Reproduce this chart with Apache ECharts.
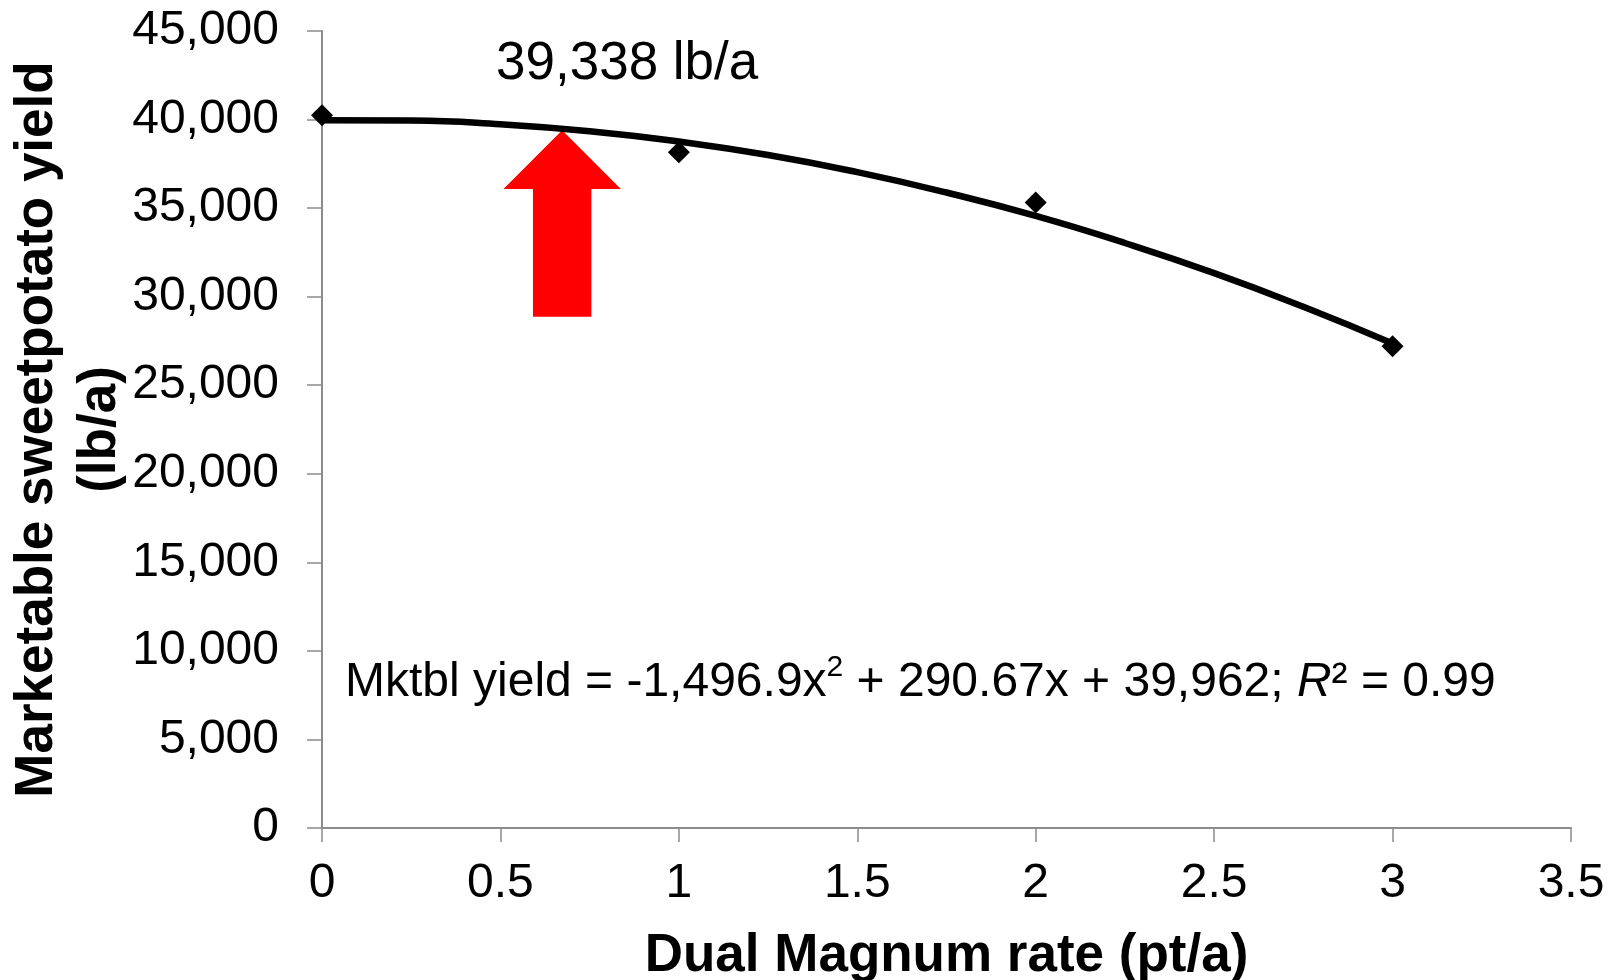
<!DOCTYPE html>
<html>
<head>
<meta charset="utf-8">
<script src="https://cdn.jsdelivr.net/npm/echarts@6/dist/echarts.min.js"></script>
<style>
  html, body { margin: 0; padding: 0; background: #fff; }
  #main { width: 1619px; height: 980px; }
</style>
</head>
<body>
<div id="main"></div>
<script>
// observed yields (lb/a) at each Dual Magnum rate (pt/a)
const rates = [0, 1, 2, 3]
const yields = [40250, 38150, 35320, 27200]

// fitted curve
const curveX = [0, 0.25, 0.5, 0.75, 1, 1.25, 1.5, 1.75, 2, 2.25, 2.5, 2.75, 3]
const curveY = [39960, 39940, 39730, 39340, 38760, 38000, 37030, 35880, 34560, 33030, 31330, 29430, 27360]

// red arrow: tip x, tip y, head base y, shaft bottom y (data units)
const arrowX = 0.673
const arrowTipY = 39400
const arrowHeadY = 36080
const arrowBottomY = 28870

const yTicks = [0, 5000, 10000, 15000, 20000, 25000, 30000, 35000, 40000, 45000]

const FONT = '"Liberation Sans", Arial, sans-serif'
const AXIS_GRAY = '#8c8c8c'

const myChart = echarts.init(document.getElementById('main'))

const option = {
  animation: false,
  backgroundColor: '#fff',
  grid: { left: 322, right: 48, top: 31, bottom: 152, outerBoundsMode: 'none', containLabel: false },
  xAxis: {
    type: 'value',
    min: 0,
    max: 3.5,
    interval: 0.5,
    name: 'Dual Magnum rate (pt/a)',
    nameLocation: 'middle',
    nameGap: 102,
    nameMoveOverlap: false,
    nameTextStyle: { fontFamily: FONT, fontSize: 53, fontWeight: 'bold', color: '#000' },
    axisLine: { lineStyle: { color: AXIS_GRAY, width: 2 } },
    axisTick: { show: true, length: 14, lineStyle: { color: AXIS_GRAY, width: 1.5 } },
    axisLabel: { fontFamily: FONT, fontSize: 48, color: '#000', margin: 32 },
    splitLine: { show: false }
  },
  yAxis: {
    type: 'value',
    min: yTicks[0],
    max: yTicks[yTicks.length - 1],
    interval: 5000,
    name: 'Marketable sweetpotato yield\n(lb/a)',
    nameLocation: 'middle',
    nameRotate: 90,
    nameGap: 190,
    nameMoveOverlap: false,
    nameTextStyle: { fontFamily: FONT, fontSize: 53, fontWeight: 'bold', color: '#000', lineHeight: 63 },
    axisLine: { show: true, lineStyle: { color: AXIS_GRAY, width: 2 } },
    axisTick: { show: true, length: 15, lineStyle: { color: AXIS_GRAY, width: 1.5 } },
    axisLabel: {
      fontFamily: FONT, fontSize: 48, color: '#000', margin: 43,
      formatter: v => v.toLocaleString('en-US')
    },
    splitLine: { show: false }
  },
  series: [
    {
      name: 'fit',
      type: 'line',
      data: curveX.map((x, i) => [x, curveY[i]]),
      smooth: true,
      showSymbol: false,
      lineStyle: { color: '#000', width: 6.5 },
      z: 3
    },
    {
      name: 'yield',
      type: 'scatter',
      data: rates.map((x, i) => [x, yields[i]]),
      symbol: 'diamond',
      symbolSize: 22,
      itemStyle: { color: '#000', opacity: 1 },
      z: 4
    },
    {
      name: 'arrow',
      type: 'custom',
      data: [[arrowX, arrowTipY, arrowHeadY, arrowBottomY]],
      renderItem: (params, api) => {
        const tip = api.coord([api.value(0), api.value(1)])
        const head = api.coord([api.value(0), api.value(2)])
        const bottom = api.coord([api.value(0), api.value(3)])
        const headHalf = 58.7
        const shaftHalf = 29.2
        const cx = tip[0]
        return {
          type: 'polygon',
          shape: {
            points: [
              [cx, tip[1]],
              [cx + headHalf, head[1]],
              [cx + shaftHalf, head[1]],
              [cx + shaftHalf, bottom[1]],
              [cx - shaftHalf, bottom[1]],
              [cx - shaftHalf, head[1]],
              [cx - headHalf, head[1]]
            ]
          },
          style: { fill: '#ff0000' }
        }
      },
      z: 2
    }
  ],
  graphic: [
    {
      type: 'text',
      left: 496,
      top: 38,
      style: { text: '39,338 lb/a', font: '53px ' + FONT, fill: '#000' }
    },
    {
      type: 'text',
      left: 345,
      top: 653,
      style: {
        text: '{n|Mktbl yield = -1,496.9x}{s|2}{n| + 290.67x + 39,962; }{i|R}{n|² = 0.99}',
        rich: {
          n: { fontFamily: FONT, fontSize: 48, color: '#000', verticalAlign: 'bottom', lineHeight: 54 },
          s: { fontFamily: FONT, fontSize: 30, color: '#000', verticalAlign: 'top', lineHeight: 54, padding: [0, 0, 24, 0] },
          i: { fontFamily: FONT, fontSize: 48, fontStyle: 'italic', color: '#000', verticalAlign: 'bottom', lineHeight: 54 }
        }
      }
    }
  ]
}

myChart.setOption(option)
</script>
</body>
</html>
